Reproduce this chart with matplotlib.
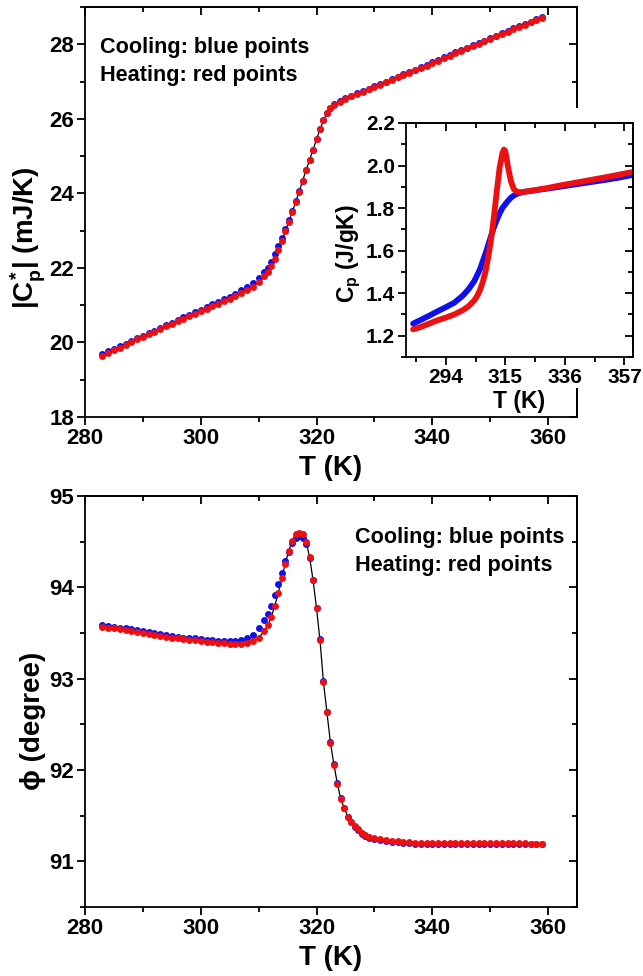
import matplotlib.pyplot as plt
from matplotlib.patches import Rectangle
from matplotlib.ticker import MultipleLocator, FixedLocator

plt.rcParams['font.family'] = ['Liberation Sans', 'DejaVu Sans']
plt.rcParams['font.weight'] = 'bold'
plt.rcParams['axes.labelweight'] = 'bold'
plt.rcParams['mathtext.fontset'] = 'custom'
plt.rcParams['mathtext.rm'] = 'Liberation Sans:bold'
plt.rcParams['mathtext.it'] = 'Liberation Sans:bold'
plt.rcParams['mathtext.bf'] = 'Liberation Sans:bold'

# |Cp*| (mJ/K) vs temperature
T_top = [283, 284, 285, 286, 287, 288, 289, 290, 291, 292, 293, 294, 295, 296,
         297, 298, 299, 300, 301, 302, 303, 304, 305, 306, 307, 308, 309, 310,
         311, 311.6, 312.2, 312.8, 313.4, 314.0, 314.6, 315.2, 315.8, 316.4,
         317.0, 317.6, 318.2, 318.8, 319.4, 320.0, 320.6, 321.2, 321.8, 322.4,
         323, 324, 325, 326, 327, 328, 329, 330, 331, 332, 333, 334, 335, 336,
         337, 338, 339, 340, 341, 342, 343, 344, 345, 346, 347, 348, 349, 350,
         351, 352, 353, 354, 355, 356, 357, 358, 359]
cp_heat = [19.64, 19.71, 19.79, 19.86, 19.93, 20.01, 20.08, 20.15, 20.22, 20.29,
           20.36, 20.43, 20.50, 20.57, 20.63, 20.70, 20.77, 20.84, 20.91, 20.97,
           21.04, 21.10, 21.17, 21.24, 21.32, 21.40, 21.50, 21.62, 21.77,
           21.89, 22.05, 22.25, 22.47, 22.72, 22.98, 23.24, 23.50, 23.77, 24.05,
           24.34, 24.62, 24.90, 25.17, 25.45, 25.72, 25.96, 26.15, 26.28,
           26.37, 26.46, 26.53, 26.60, 26.66, 26.72, 26.79, 26.85, 26.91, 26.98,
           27.04, 27.11, 27.17, 27.24, 27.30, 27.37, 27.43, 27.50, 27.56, 27.63,
           27.69, 27.76, 27.82, 27.89, 27.95, 28.02, 28.08, 28.15, 28.21, 28.28,
           28.34, 28.41, 28.47, 28.53, 28.59, 28.65, 28.71]
cp_cool = [19.69, 19.76, 19.83, 19.90, 19.97, 20.04, 20.11, 20.18, 20.25, 20.32,
           20.39, 20.46, 20.53, 20.60, 20.67, 20.74, 20.81, 20.88, 20.95, 21.02,
           21.09, 21.16, 21.23, 21.31, 21.40, 21.49, 21.60, 21.73, 21.88,
           22.01, 22.17, 22.37, 22.58, 22.81, 23.05, 23.29, 23.53, 23.79, 24.06,
           24.34, 24.62, 24.90, 25.17, 25.45, 25.72, 25.96, 26.16, 26.30,
           26.39, 26.48, 26.55, 26.62, 26.68, 26.74, 26.81, 26.87, 26.93, 27.00,
           27.06, 27.13, 27.19, 27.26, 27.32, 27.39, 27.45, 27.52, 27.58, 27.65,
           27.71, 27.78, 27.84, 27.91, 27.97, 28.04, 28.10, 28.17, 28.23, 28.30,
           28.36, 28.43, 28.49, 28.55, 28.61, 28.67, 28.74]

# phase angle (degree) vs temperature
T_bot = [283, 284, 285, 286, 287, 288, 289, 290, 291, 292, 293, 294, 295, 296,
         297, 298, 299, 300, 301, 302, 303, 304, 305, 306, 307, 308, 309, 310,
         311, 311.6, 312.2, 312.8, 313.4, 314.0, 314.6, 315.2, 315.8, 316.4,
         317.0, 317.6, 318.2, 318.8, 319.4, 320.0, 320.6, 321.2, 321.8, 322.4,
         323.0, 323.6, 324.2, 324.8, 325.4, 326.0, 326.6, 327.2, 327.8, 328.4,
         329.0, 330, 331, 332, 333, 334, 335, 336, 337, 338, 339, 340, 341, 342,
         343, 344, 345, 346, 347, 348, 349, 350, 351, 352, 353, 354, 355, 356,
         357, 358, 359]
phi_heat = [93.57, 93.56, 93.55, 93.54, 93.53, 93.52, 93.51, 93.50, 93.49, 93.48,
            93.47, 93.46, 93.45, 93.44, 93.43, 93.42, 93.42, 93.41, 93.40, 93.40,
            93.39, 93.39, 93.38, 93.38, 93.38, 93.39, 93.41, 93.45, 93.52,
            93.59, 93.68, 93.80, 93.94, 94.10, 94.26, 94.40, 94.51, 94.58, 94.60,
            94.58, 94.50, 94.33, 94.08, 93.77, 93.42, 92.96, 92.63, 92.30,
            92.06, 91.85, 91.68, 91.58, 91.49, 91.43, 91.39, 91.35, 91.31, 91.29,
            91.27, 91.26, 91.24, 91.23, 91.22, 91.22, 91.21, 91.21, 91.20, 91.20,
            91.20, 91.20, 91.20, 91.20, 91.20, 91.20, 91.20, 91.20, 91.20, 91.20,
            91.20, 91.20, 91.20, 91.20, 91.20, 91.20, 91.20, 91.20, 91.19, 91.19,
            91.19]
phi_cool = [93.59, 93.58, 93.57, 93.56, 93.55, 93.54, 93.53, 93.52, 93.51, 93.50,
            93.49, 93.48, 93.47, 93.46, 93.45, 93.44, 93.44, 93.43, 93.42, 93.42,
            93.41, 93.41, 93.41, 93.41, 93.42, 93.44, 93.48, 93.55, 93.64,
            93.71, 93.80, 93.92, 94.04, 94.16, 94.29, 94.39, 94.48, 94.54, 94.56,
            94.54, 94.47, 94.32, 94.08, 93.77, 93.43, 92.97, 92.64, 92.31,
            92.07, 91.86, 91.69, 91.58, 91.49, 91.43, 91.38, 91.34, 91.30, 91.28,
            91.26, 91.25, 91.23, 91.22, 91.21, 91.21, 91.20, 91.20, 91.19, 91.19,
            91.19, 91.19, 91.19, 91.19, 91.19, 91.19, 91.19, 91.19, 91.19, 91.19,
            91.19, 91.19, 91.19, 91.19, 91.19, 91.19, 91.19, 91.19, 91.19, 91.19,
            91.19]

# specific heat Cp (J/gK), inset
T_in_cool = [282.5, 285, 288, 291, 294, 297, 300, 302, 304, 306, 307, 308, 309,
             310, 311, 312, 313, 314, 315, 316, 317, 318, 319, 320, 322, 325,
             330, 335, 340, 345, 350, 355, 360]
cp_in_cool = [1.257, 1.273, 1.293, 1.314, 1.334, 1.355, 1.388, 1.418, 1.455,
              1.510, 1.548, 1.585, 1.628, 1.670, 1.710, 1.745, 1.775, 1.801,
              1.818, 1.835, 1.849, 1.859, 1.866, 1.871, 1.877, 1.883, 1.892,
              1.902, 1.912, 1.922, 1.932, 1.943, 1.956]
T_in_heat = [282.5, 285, 288, 291, 294, 297, 300, 302, 304, 305, 306, 307, 308,
             309, 310, 311, 312, 313, 314, 314.5, 315, 316, 317, 318, 319, 320,
             322, 325, 330, 335, 340, 345, 350, 355, 360]
cp_in_heat = [1.230, 1.240, 1.256, 1.272, 1.285, 1.300, 1.320, 1.338, 1.365,
              1.385, 1.412, 1.450, 1.500, 1.570, 1.655, 1.760, 1.880, 1.990,
              2.060, 2.075, 2.068, 1.990, 1.925, 1.889, 1.878, 1.874, 1.877,
              1.883, 1.895, 1.908, 1.920, 1.932, 1.944, 1.957, 1.970]

W, H = 643, 976
BLUE = '#1010ee'
RED = '#ee1010'


def px_rect(left, top, right, bottom):
    return [left / W, 1 - bottom / H, (right - left) / W, (bottom - top) / H]


def frame(ax, xmaj, xmin, ymaj, ymin, size):
    # ticks point out on left/bottom and in on top/right
    ax.xaxis.set_major_locator(xmaj)
    ax.xaxis.set_minor_locator(xmin)
    ax.yaxis.set_major_locator(ymaj)
    ax.yaxis.set_minor_locator(ymin)
    ax.tick_params(which='both', direction='out', width=1.3, labelsize=size, pad=2)
    ax.tick_params(which='major', length=6)
    ax.tick_params(which='minor', length=3.5)
    for s in ax.spines.values():
        s.set_linewidth(1.3)
    top = ax.secondary_xaxis('top')
    top.xaxis.set_major_locator(xmaj)
    top.xaxis.set_minor_locator(xmin)
    right = ax.secondary_yaxis('right')
    right.yaxis.set_major_locator(ymaj)
    right.yaxis.set_minor_locator(ymin)
    for sec in (top, right):
        sec.tick_params(which='both', direction='in', width=1.3,
                        labeltop=False, labelright=False)
        sec.tick_params(which='major', length=6)
        sec.tick_params(which='minor', length=3.5)
        for s in sec.spines.values():
            s.set_linewidth(1.3)


fig = plt.figure(figsize=(6.43, 9.76), dpi=100)

# upper panel
ax1 = fig.add_axes(px_rect(85, 7, 577, 417), zorder=0)
ax1.plot(T_top, cp_heat, color='black', lw=0.9, zorder=1)
ax1.plot(T_top, cp_cool, 'o', color=BLUE, ms=5, mec='none', zorder=2)
ax1.plot(T_top, cp_heat, 'o', color=RED, ms=5, mec='none', zorder=3)
ax1.set_xlim(280, 365)
ax1.set_ylim(18, 29)
frame(ax1, MultipleLocator(20), MultipleLocator(10),
      MultipleLocator(2), MultipleLocator(1), 16)
ax1.set_xlabel('T (K)', fontsize=20, labelpad=4)
ax1.text(0.03, 0.90, 'Cooling: blue points', transform=ax1.transAxes,
         fontsize=15.6, va='center')
ax1.text(0.03, 0.832, 'Heating: red points', transform=ax1.transAxes,
         fontsize=15.6, va='center')
fig.text(28 / W, 1 - 238 / H, r'$|C^{*}_{p}|$ (mJ/K)', rotation=90,
         ha='center', va='center', fontsize=20)

# white backdrop behind the inset
fig.add_artist(Rectangle((345 / W, 1 - 388 / H), (W - 345) / W, 280 / H,
                         transform=fig.transFigure, facecolor='white',
                         edgecolor='none', zorder=1))

# inset
axi = fig.add_axes(px_rect(406, 123, 633, 357), zorder=2)
axi.plot(T_in_cool, cp_in_cool, color=BLUE, lw=4.2, solid_capstyle='round')
axi.plot(T_in_heat, cp_in_heat, color=RED, lw=4.2, solid_capstyle='round')
axi.set_xlim(280, 360)
axi.set_ylim(1.1, 2.2)
frame(axi, FixedLocator([294, 315, 336, 357]),
      FixedLocator([283.5, 304.5, 325.5, 346.5]),
      MultipleLocator(0.2), MultipleLocator(0.1), 15)
axi.yaxis.set_major_formatter('{x:.1f}')
axi.set_xlabel('T (K)', fontsize=16.5, labelpad=2)
fig.text(349 / W, 1 - 254 / H, r'$C_p$ (J/gK)', rotation=90,
         ha='center', va='center', fontsize=16.5)

# lower panel
ax2 = fig.add_axes(px_rect(85, 496, 577, 907))
ax2.plot(T_bot, phi_heat, color='black', lw=0.9, zorder=1)
ax2.plot(T_bot, phi_cool, 'o', color=BLUE, ms=5, mec='none', zorder=2)
ax2.plot(T_bot, phi_heat, 'o', color=RED, ms=5, mec='none', zorder=3)
ax2.set_xlim(280, 365)
ax2.set_ylim(90.5, 95)
frame(ax2, MultipleLocator(20), MultipleLocator(10),
      MultipleLocator(1), MultipleLocator(0.5), 16)
ax2.set_xlabel('T (K)', fontsize=20, labelpad=4)
fig.text(355 / W, 1 - 537 / H, 'Cooling: blue points', fontsize=15.6, va='center')
fig.text(355 / W, 1 - 565 / H, 'Heating: red points', fontsize=15.6, va='center')
fig.text(33 / W, 1 - 721 / H, 'ϕ (degree)', rotation=90,
         ha='center', va='center', fontsize=20)

fig.savefig('out.png', dpi=100)
